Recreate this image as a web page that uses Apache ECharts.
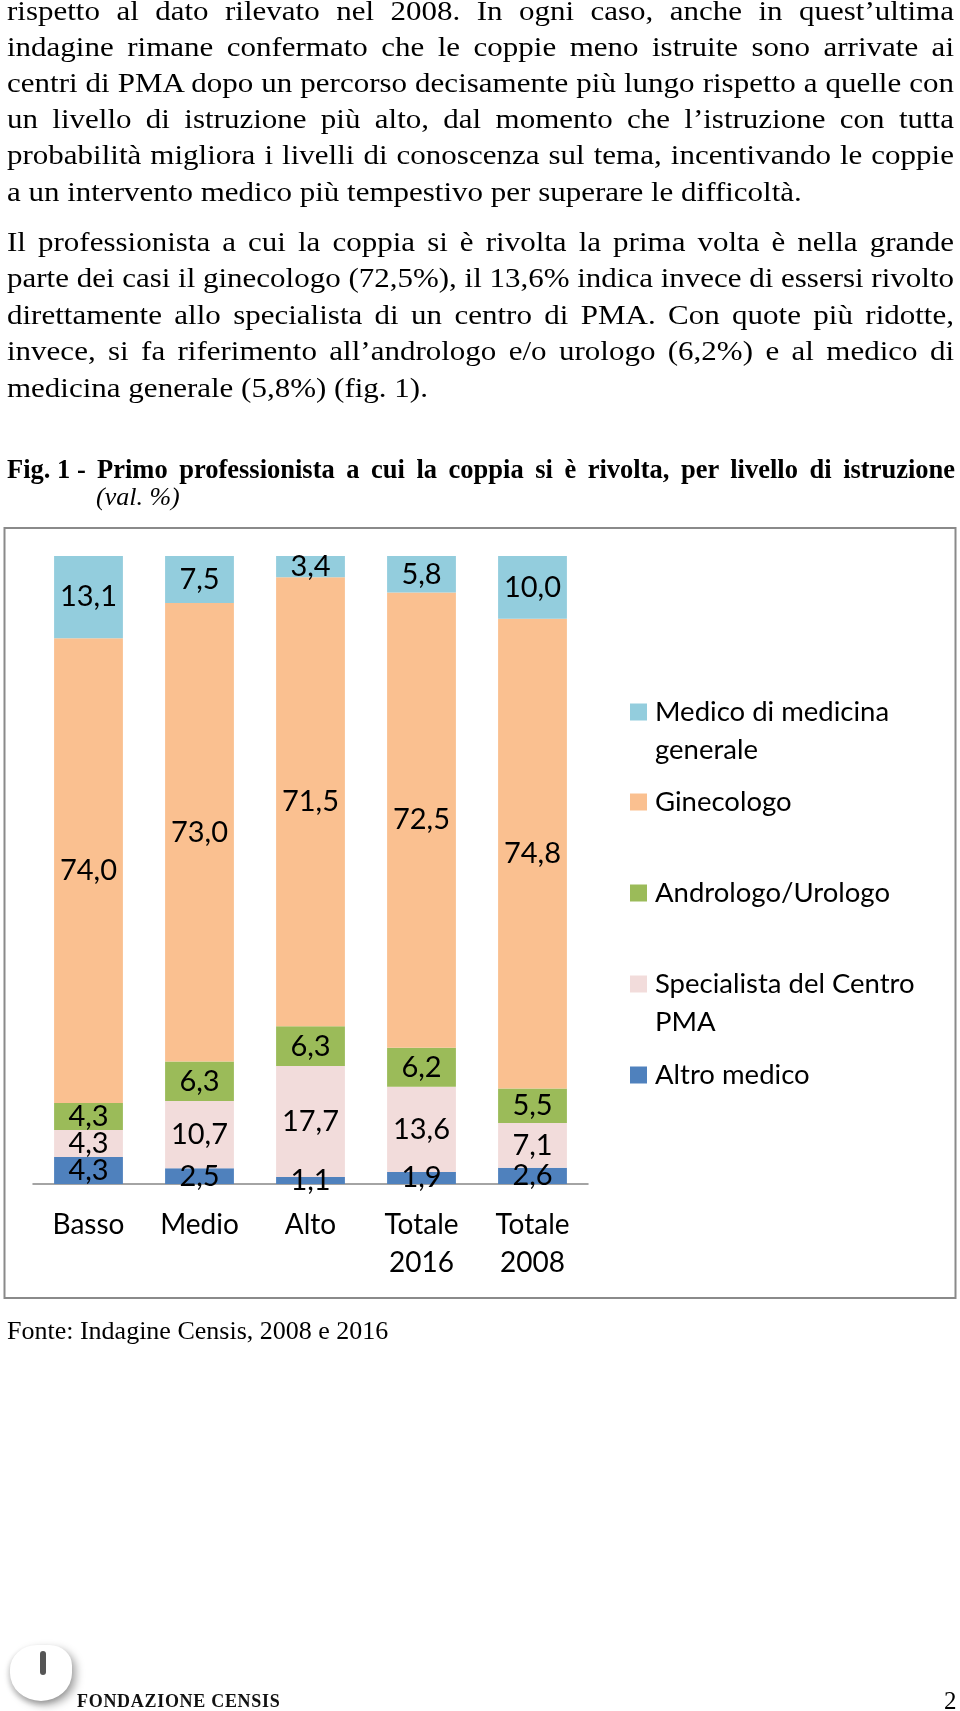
<!DOCTYPE html>
<html>
<head>
<meta charset="utf-8">
<script src="https://cdn.jsdelivr.net/npm/echarts/dist/echarts.min.js"></script>
<style>
  html, body { margin: 0; padding: 0; background: #fff; }
  #page { position: relative; width: 960px; height: 1711px; overflow: hidden; background: #fff; }
  #chart { position: absolute; left: 0; top: 0; width: 960px; height: 1711px; }
  .ln { position: absolute; left: 7px; width: 947px; font-family: "Liberation Serif", serif; font-size: 31px; line-height: 36px; height: 36px; color: #000; text-align: justify; text-align-last: justify; word-spacing: -4px; transform: scaleY(0.88); transform-origin: 50% 28.5px; }
  .last { text-align: left; text-align-last: left; word-spacing: 0; }
  .cap { position: absolute; font-family: "Liberation Serif", serif; font-size: 26.5px; line-height: 30px; font-weight: bold; color: #000; }
  .src { position: absolute; left: 7px; top: 1316px; font-family: "Liberation Serif", serif; font-size: 26px; line-height: 30px; color: #000; }
  .logo { position: absolute; left: 10px; top: 1645px; width: 62px; height: 56px; border-radius: 48% 40% 55% 55%; background: #fff; box-shadow: 4px 4px 8px rgba(0,0,0,0.35), -2px 3px 5px rgba(0,0,0,0.15); }
  .logo i { position: absolute; left: 30px; top: 6px; width: 6px; height: 24px; background: #555; border-radius: 3px; }
  .foot { position: absolute; left: 77px; top: 1691px; font-family: "Liberation Serif", serif; font-size: 18px; line-height: 20px; font-weight: bold; letter-spacing: 0.7px; color: #111; }
  .pg { position: absolute; left: 944px; top: 1688px; font-family: "Liberation Serif", serif; font-size: 25px; line-height: 25px; color: #000; }
</style>
</head>
<body>
<div id="page">
  <div id="chart"></div>
  <div id="text"></div>
  <div class="logo"><i></i></div>
  <div class="foot">FONDAZIONE CENSIS</div>
  <div class="pg">2</div>
</div>
<script>
// ---- page text ----
const para1 = [
  "rispetto al dato rilevato nel 2008. In ogni caso, anche in quest’ultima",
  "indagine rimane confermato che le coppie meno istruite sono arrivate ai",
  "centri di PMA dopo un percorso decisamente più lungo rispetto a quelle con",
  "un livello di istruzione più alto, dal momento che l’istruzione con tutta",
  "probabilità migliora i livelli di conoscenza sul tema, incentivando le coppie",
  "a un intervento medico più tempestivo per superare le difficoltà."
];
const para2 = [
  "Il professionista a cui la coppia si è rivolta la prima volta è nella grande",
  "parte dei casi il ginecologo (72,5%), il 13,6% indica invece di essersi rivolto",
  "direttamente allo specialista di un centro di PMA. Con quote più ridotte,",
  "invece, si fa riferimento all’andrologo e/o urologo (6,2%) e al medico di",
  "medicina generale (5,8%) (fig. 1)."
];
const captionLabel = "Fig. 1 -";
const captionTitle = "Primo professionista a cui la coppia si è rivolta, per livello di istruzione";
const captionUnit = "(val. %)";
const sourceText = "Fonte: Indagine Censis, 2008 e 2016";

// ---- chart data ----
const categories = ["Basso", "Medio", "Alto", "Totale\n2016", "Totale\n2008"];
const nameAltro = "Altro medico";
const nameSpecialista = "Specialista del Centro PMA";
const nameAndrologo = "Andrologo/Urologo";
const nameGinecologo = "Ginecologo";
const nameMedicoGen = "Medico di medicina generale";
const altroMedico = [4.3, 2.5, 1.1, 1.9, 2.6];
const specialistaPMA = [4.3, 10.7, 17.7, 13.6, 7.1];
const andrologoUrologo = [4.3, 6.3, 6.3, 6.2, 5.5];
const ginecologo = [74.0, 73.0, 71.5, 72.5, 74.8];
const medicoGenerale = [13.1, 7.5, 3.4, 5.8, 10.0];

// build text
const T = document.getElementById('text');
function addLine(txt, top, last) {
  const d = document.createElement('div');
  d.className = 'ln' + (last ? ' last' : '');
  d.style.top = top + 'px';
  d.textContent = txt;
  T.appendChild(d);
}
para1.forEach((t, i) => addLine(t, -8.5 + i * 36.2, i === para1.length - 1));
para2.forEach((t, i) => addLine(t, 222.5 + i * 36.5, i === para2.length - 1));

const c1 = document.createElement('div');
c1.className = 'cap'; c1.style.left = '7px'; c1.style.top = '454px';
c1.textContent = captionLabel; T.appendChild(c1);
const c2 = document.createElement('div');
c2.className = 'cap'; c2.style.left = '97px'; c2.style.top = '454px'; c2.style.width = '858px';
c2.style.textAlign = 'justify'; c2.style.textAlignLast = 'justify';
c2.textContent = captionTitle; T.appendChild(c2);
const c3 = document.createElement('div');
c3.className = 'cap'; c3.style.left = '96px'; c3.style.top = '482px';
c3.style.fontWeight = 'normal'; c3.style.fontStyle = 'italic'; c3.style.fontSize = '26px';
c3.textContent = captionUnit; T.appendChild(c3);
const s = document.createElement('div');
s.className = 'src'; s.textContent = sourceText; T.appendChild(s);

// ---- chart ----
const colors = {
  [nameAltro]: '#4F81BD',
  [nameSpecialista]: '#F2DCDB',
  [nameAndrologo]: '#9BBB59',
  [nameGinecologo]: '#FAC090',
  [nameMedicoGen]: '#93CDDD'
};
const legendText = {
  [nameMedicoGen]: "\nMedico di medicina\ngenerale",
  [nameGinecologo]: "Ginecologo",
  [nameAndrologo]: "Andrologo/Urologo",
  [nameSpecialista]: "\nSpecialista del Centro\nPMA",
  [nameAltro]: "Altro medico"
};
const fmt = p => p.value.toFixed(1).replace('.', ',');
function mk(name, data) {
  return {
    name, type: 'bar', stack: 'tot', data,
    barCategoryGap: '38%',
    itemStyle: { color: colors[name] },
    label: { show: true, position: 'inside', formatter: fmt, color: '#000',
             fontFamily: 'Lato', fontSize: 29 },
    emphasis: { disabled: true }
  };
}
const legendTops = [
  [nameMedicoGen, 655], [nameGinecologo, 783], [nameAndrologo, 874],
  [nameSpecialista, 927], [nameAltro, 1056]
];
const chart = echarts.init(document.getElementById('chart'), null, { renderer: 'canvas' });
chart.setOption({
  animation: false,
  graphic: [{
    type: 'rect', shape: { x: 4.5, y: 528, width: 951, height: 770 },
    style: { fill: 'none', stroke: '#8a8a8a', lineWidth: 2 }, silent: true, z: -1
  }],
  grid: { left: 33, top: 556, width: 555, height: 628 },
  xAxis: {
    type: 'category', data: categories,
    axisLine: { lineStyle: { color: '#868686', width: 1.5 } },
    axisTick: { length: 9, lineStyle: { color: '#868686', width: 1.5 } },
    axisLabel: { color: '#000', fontFamily: 'Lato', fontSize: 28, lineHeight: 38, margin: 22, interval: 0 }
  },
  yAxis: { type: 'value', min: 0, max: 100, show: false },
  legend: legendTops.map(([n, top]) => ({
    data: [n], left: 630, top, orient: 'vertical', padding: 0, itemGap: 0,
    itemWidth: 17, itemHeight: 17, icon: 'rect', selectedMode: false,
    formatter: nm => legendText[nm],
    textStyle: { color: '#000', fontFamily: 'Lato', fontSize: 27.5, lineHeight: 38, padding: [0, 0, 0, 3] }
  })),
  series: [
    mk(nameAltro, altroMedico),
    mk(nameSpecialista, specialistaPMA),
    mk(nameAndrologo, andrologoUrologo),
    mk(nameGinecologo, ginecologo),
    mk(nameMedicoGen, medicoGenerale)
  ]
});
</script>
</body>
</html>
